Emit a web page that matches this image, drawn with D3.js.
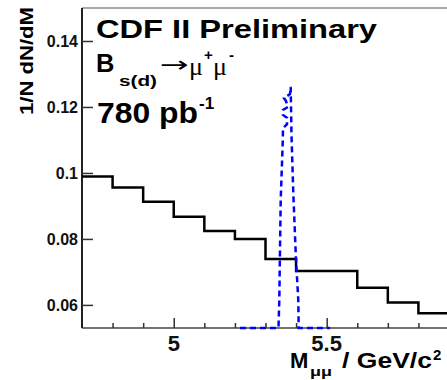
<!DOCTYPE html>
<html><head><meta charset="utf-8">
<script src="https://cdn.jsdelivr.net/npm/d3@7/dist/d3.min.js"></script>
<style>body{margin:0;background:#fff}svg{display:block}text{font-family:"Liberation Sans",Arial,sans-serif}</style>
</head><body>
<svg id="c" width="447" height="380"></svg>
<script>
// ---- data ----
const binEdges = [4.7,4.8,4.9,5.0,5.1,5.2,5.3,5.4,5.5,5.6,5.7,5.8,5.9];
const bkgValues = [0.0989,0.0956,0.0913,0.0867,0.0824,0.0800,0.0739,0.0703,0.0703,0.0652,0.0607,0.0575];
const sigMass = [5.2166,5.3425,5.3451,5.3497,5.3563,5.3572,5.3703,5.3703,5.3572,5.3572,5.3736,5.3670,5.3605,5.3801,5.3824,5.3850,5.3909,5.3997,5.4072,5.4085,5.5109];
const sigValue = [0,0,0.0615,0.0918,0.1091,0.1136,0.1148,0.1167,0.1176,0.1191,0.1200,0.1218,0.1227,0.1239,0.1261,0.1115,0.0939,0.0736,0.0615,0,0];
const yTicks = [0.06,0.08,0.1,0.12,0.14];
const yTickLabels = ["0.06","0.08","0.1","0.12","0.14"];
const xMajorTicks = [5.0,5.5];
const xTickLabels = ["5","5.5"];
const xMinorTicks = [4.8,4.9,5.1,5.2,5.3,5.4,5.6,5.7,5.8];

const svg = d3.select("#c");
const L=82, R=449, T=8, B=328;
const x = d3.scaleLinear().domain([4.7,5.9]).range([L,R]);
const y = d3.scaleLinear().domain([0.053,0.150]).range([B,T]);
const ySig = y.copy().clamp(true);

// frame
svg.append("line").attr("x1",L).attr("x2",447).attr("y1",T).attr("y2",T).attr("stroke","#555").attr("stroke-width",1.2);
svg.append("line").attr("x1",L).attr("x2",447).attr("y1",B).attr("y2",B).attr("stroke","#444").attr("stroke-width",1.5);
svg.append("line").attr("x1",L).attr("x2",L).attr("y1",T).attr("y2",B).attr("stroke","#222").attr("stroke-width",2);

// y ticks
const yAxis = d3.axisRight(y).tickValues(yTicks).tickSize(11).tickFormat("");
const gy = svg.append("g").attr("transform",`translate(${L},0)`).call(yAxis);
gy.select(".domain").remove();
gy.selectAll(".tick line").attr("stroke","#333").attr("stroke-width",1.5);
svg.selectAll(".ylab").data(yTicks).enter().append("text")
  .attr("x",78).attr("y",d=>y(d)).attr("dy","0.35em").attr("text-anchor","end")
  .attr("font-size",16).attr("font-weight","bold").attr("fill","#111")
  .text((d,i)=>yTickLabels[i]);

// x ticks
const gxM = svg.append("g").attr("transform",`translate(0,${B})`)
  .call(d3.axisTop(x).tickValues(xMajorTicks).tickSize(10).tickFormat(""));
gxM.select(".domain").remove();
gxM.selectAll(".tick line").attr("stroke","#333").attr("stroke-width",1.5);
const gxm = svg.append("g").attr("transform",`translate(0,${B})`)
  .call(d3.axisTop(x).tickValues(xMinorTicks).tickSize(5).tickFormat(""));
gxm.select(".domain").remove();
gxm.selectAll(".tick line").attr("stroke","#333").attr("stroke-width",1.5);
svg.selectAll(".xlab").data(xMajorTicks).enter().append("text")
  .attr("x",d=>x(d)).attr("y",351).attr("text-anchor","middle")
  .attr("font-size",22).attr("font-weight","bold").attr("fill","#111")
  .text((d,i)=>xTickLabels[i]);

// background histogram
const histPts = binEdges.map((e,i)=>[e, i<bkgValues.length ? bkgValues[i] : bkgValues[bkgValues.length-1]]);
const stepLine = d3.line().x(d=>x(d[0])).y(d=>y(d[1])).curve(d3.curveStepAfter);
svg.append("path").datum(histPts).attr("d",stepLine)
  .attr("fill","none").attr("stroke","#000").attr("stroke-width",2.5);

// signal
const sigLine = d3.line().x(d=>x(d[0])).y(d=>ySig(d[1]));
svg.append("path").datum(sigMass.map((m,i)=>[m,sigValue[i]])).attr("d",sigLine)
  .attr("fill","none").attr("stroke","#0000ff").attr("stroke-width",2.5)
  .attr("stroke-dasharray","6,4");

// texts
const bold = (sel)=>sel.attr("font-weight","bold").attr("fill","#000");
svg.append("text").attr("x",96).attr("y",38).attr("font-size",25.5).call(bold)
  .attr("textLength",281).attr("lengthAdjust","spacingAndGlyphs").text("CDF II Preliminary");
svg.append("text").attr("x",96).attr("y",72).attr("font-size",25.5).call(bold).text("B");
svg.append("text").attr("x",119).attr("y",86).attr("font-size",15).call(bold)
  .attr("textLength",38).attr("lengthAdjust","spacingAndGlyphs").text("s(d)");
svg.append("text").attr("x",160).attr("y",72).attr("font-size",22).attr("fill","#000")
  .style("font-family","DejaVu Sans").attr("textLength",29).attr("lengthAdjust","spacingAndGlyphs").text("→");
svg.append("text").attr("x",189).attr("y",75).attr("font-size",26).attr("fill","#000")
  .style("font-family","Liberation Serif").text("μ");
svg.append("text").attr("x",204).attr("y",60).attr("font-size",15).call(bold).text("+");
svg.append("text").attr("x",213).attr("y",75).attr("font-size",26).attr("fill","#000")
  .style("font-family","Liberation Serif").text("μ");
svg.append("text").attr("x",229).attr("y",60).attr("font-size",15).call(bold).text("-");
svg.append("text").attr("x",97).attr("y",123).attr("font-size",30).call(bold)
  .attr("textLength",101).attr("lengthAdjust","spacingAndGlyphs").text("780 pb");
svg.append("text").attr("x",199).attr("y",109).attr("font-size",17).call(bold).text("-1");

// y title
svg.append("text").attr("transform","translate(33,61) rotate(-90)").attr("text-anchor","middle")
  .attr("font-size",18).call(bold).attr("textLength",108).attr("lengthAdjust","spacingAndGlyphs")
  .text("1/N dN/dM");

// x title
svg.append("text").attr("x",290).attr("y",368).attr("font-size",22).call(bold).text("M");
svg.append("text").attr("x",310).attr("y",376).attr("font-size",12).call(bold)
  .attr("textLength",22).attr("lengthAdjust","spacingAndGlyphs").text("μμ");
svg.append("text").attr("x",342).attr("y",368).attr("font-size",22).call(bold)
  .attr("textLength",90).attr("lengthAdjust","spacingAndGlyphs").text("/ GeV/c");
svg.append("text").attr("x",433).attr("y",360).attr("font-size",15).call(bold).text("2");
</script>
</body></html>
